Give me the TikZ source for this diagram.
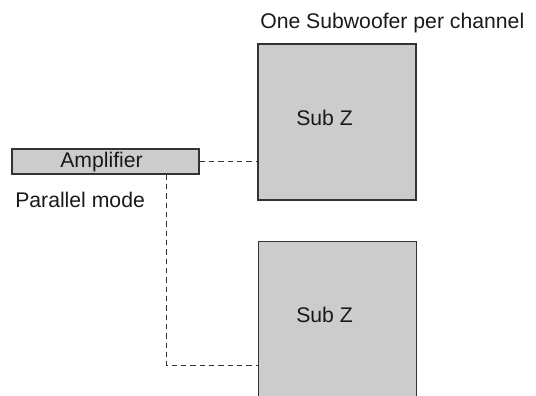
\documentclass[tikz,border=0pt]{standalone}
\usepackage{fontspec}
\setmainfont{Liberation Sans}
\begin{document}
\begin{tikzpicture}[x=0.75pt,y=-0.75pt,
  box/.style={draw=black!80,fill=black!20,line width=0.8pt,inner sep=0pt},
  lbl/.style={inner sep=0pt,anchor=base west,text=black!90,font=\fontsize{15.9pt}{19pt}\selectfont},
  conn/.style={draw=black!80,line width=0.7pt,dash pattern=on 4pt off 3pt}]
\useasboundingbox (0,0) rectangle (536,396);
\node[box,minimum width=140.25pt,minimum height=18.75pt] (amp) at (105.5,161.5) {};
\node[box,minimum width=118.5pt,minimum height=117pt] (subA) at (337,122) {};
\node[fill=black!20,inner sep=0pt,minimum width=117.75pt,minimum height=118.5pt] (subB) at (337.5,321) {};
\draw[black!80,line width=0.8pt] (subB.south west) |- (subB.north east) -- (subB.south east);
\node[lbl] (ampt) at (60,167) {Amplifier};
\node[lbl] (par) at (15,207) {Parallel mode};
\node[lbl] (title) at (260,28) {One Subwoofer per channel};
\node[lbl] (subAt) at (296,125) {Sub Z};
\node[lbl] (subBt) at (296,322) {Sub Z};
\coordinate (j) at (166,365);
\draw[conn] (amp.east) -- (amp.east -| subA.west);
\draw[conn] (amp.south -| j) -- (j) -- (j -| subB.west);
\end{tikzpicture}
\end{document}
